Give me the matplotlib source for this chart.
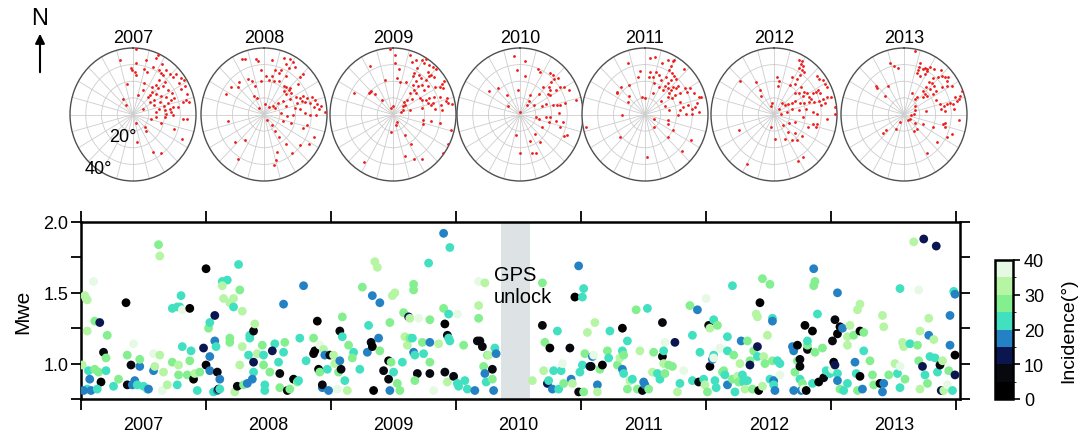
import numpy as np
import matplotlib
matplotlib.use('Agg')
import matplotlib.pyplot as plt
from matplotlib.colors import ListedColormap, BoundaryNorm
from matplotlib.cm import ScalarMappable

plt.rcParams['font.family'] = ['Liberation Sans', 'DejaVu Sans']

years = [2007, 2008, 2009, 2010, 2011, 2012, 2013]

# ray directions per year: (east, north) components of incidence (deg)
rays_2007 = [(2.1, 39.4), (-8.4, 33), (1.7, 31.2), (8, 32.6), (14.3, 34.2), (15.8, 35.6), (18.3, 30.2),
             (-1.5, 28.2), (-0.6, 26.6), (1.1, 25.6), (2.1, 24), (6.7, 27.6), (9.1, 25.6), (12.6, 28.6),
             (16.4, 26.6), (17.5, 25), (18.9, 23.6), (21, 27), (23.2, 24.6), (25.3, 22.6), (27.4, 24.2),
             (30.5, 22), (32.6, 20.6), (29.5, 19), (33.3, 17), (30.5, 15.6), (34.1, 12.2), (33.7, 8.6),
             (31.6, 7.6), (35.8, 7.6), (34.5, -2.8), (31.6, -2.6), (26.3, -9), (30.9, -14.6), (17.9, -23.4),
             (12.6, -22.4), (8.4, -9.8), (7.8, -7.8), (2.7, -16.6), (2.1, -5.4), (11.6, -2.6), (14.3, -1.8),
             (17.9, -5.4), (21, 0.2), (20.2, 2.6), (23.2, 3.6), (25.3, 4.6), (16.8, 3.6), (19.4, 5),
             (22.3, 7), (24.2, 8.6), (26.3, 10.2), (21, 10.6), (17.7, 11), (14.7, 12.6), (10.9, 11.6),
             (9.5, 10.6), (12.2, 13.6), (15.8, 16.2), (14.3, 17.6), (18.9, 17), (22.1, 14.6), (24.8, 13),
             (20, 19.6), (16.8, 20.6), (12, 16.6), (6.3, 14.6), (6.9, 19), (3.2, 11.6), (-3.8, 18.2),
             (-6.3, 9.6), (-4.6, 6), (6.3, 3.6), (10.5, 7.4), (13.1, 8.6), (17.3, 7.6), (24.2, 1.6),
             (28.4, 4.6), (25.7, -0.4), (20, -1.4), (14.7, 1.6), (13.1, 5.6)]
rays_2008 = [(-14.1, 33.3), (-12, 33.3), (-5, 33.1), (-3.7, 32), (4.8, 32.7), (13, 33.7), (16.7, 33.1),
             (18.5, 31.6), (14.1, 30.2), (15.7, 28.2), (19.6, 28.6), (10.9, 26.9), (7.2, 26.9), (9.8, 24.9),
             (5, 22.9), (1.1, 22.9), (-2.2, 26.5), (-10.2, 21.4), (-15.9, 19.4), (-16.3, 16.7), (-20.7, 16.3),
             (-23.9, 12.2), (-7.6, 20.4), (-5.4, 17.3), (-2.2, 20.4), (3.3, 20.8), (6.5, 20), (9.8, 20.4),
             (14.1, 22.9), (22.8, 22.4), (25, 24.5), (21.7, 18.4), (13, 17.3), (14.1, 16.3), (15.9, 14.7),
             (16.7, 15.9), (12.4, 13.9), (14.1, 12.2), (17.4, 12.7), (20.2, 10.6), (22.8, 10.2), (24.6, 11.2),
             (27.2, 10.2), (30.4, 10.6), (32.6, 8.6), (33.7, 6.1), (35.9, 5.1), (31.5, 4.5), (29.3, 7.1),
             (26.1, 7.8), (23.9, 8.2), (20.7, 7.1), (16.3, 9.2), (12, 8.2), (8.7, 7.1), (5.9, 5.1), (3.3, 4.5),
             (7.2, 4.1), (14.1, 5.1), (19.6, 4.1), (22.8, 3.1), (26.1, 1), (29.3, 0), (33.3, -0.4), (38.9, 1.4),
             (34.8, 3.1), (27.2, -6.1), (25, -8.2), (31.5, -13.3), (28.3, -18), (22.8, -18.4), (18, -22.9),
             (14.1, -18), (8, -22.4), (7.6, -27.6), (6.5, -30.2), (9.8, -13.3), (6.7, -10.2), (5, -6.1),
             (2.2, -3.1), (-3.3, 4.1), (-4.3, 10.2), (-6.5, 11.2), (0.7, 6.5), (-18.5, -16.3), (-12, -15.3),
             (-22.8, -3.7), (-16.7, -26.9), (18.5, 0), (14.6, -1), (10.9, 1), (12, -4.1), (17.4, -5.1)]
rays_2009 = [(-1.8, 39.4), (1.1, 35.6), (-14.3, 29.4), (-4.8, 21), (1.1, 31), (4, 27.4), (2.6, 22.2),
             (11, 36), (12.1, 31.6), (14.3, 32.6), (15.4, 28), (18.7, 33), (20.9, 33.4), (19.8, 31),
             (23.1, 30), (25.3, 28.6), (27.5, 27.4), (30.8, 18.6), (32.5, 20), (31.9, 16), (29.7, 16.6),
             (26.4, 16.6), (22, 17), (18.7, 18), (19.8, 15), (14.3, 20), (12.7, 23), (13.6, 25), (16.5, 24),
             (17.6, 22), (20.9, 21), (23.1, 23), (22, 25.4), (24.2, 24), (25.9, 22.6), (12.7, 18), (13.6, 15),
             (14.9, 13), (11, 13), (8.8, 8.6), (7.9, 6), (6.6, 5), (6.2, 3), (4.8, 1.8), (10.5, 3), (7, 7.4),
             (18.7, 8.6), (20.9, 9), (23.1, 10), (25.9, 10.4), (29.7, 10.6), (30.3, 6), (33.4, 8), (35.2, 7),
             (37.4, 6.6), (34.1, 10), (30.8, 3), (26.8, 3.4), (24.2, 6), (18.7, 4), (22, 7), (-14.7, 13.4),
             (-14.1, 14), (-15.4, 13), (-11.4, 12.6), (-7, 8.6), (-24.6, 13), (-1.5, 3.8), (0, 5.4),
             (18.9, -3.4), (19.3, -6), (24.2, -4), (29.7, -5), (36.9, -9.4), (34.7, -18), (31.9, -23),
             (13.2, -27), (7.7, -25), (18.2, -26.6), (11.6, -18), (7.9, -12.4), (2.6, -4.4), (1.8, -6.6),
             (-1.1, -10.6), (-18.7, -28.6), (4.4, 19.4), (8.4, 19.4), (15.8, 17), (17.1, 10), (12.1, 9.4),
             (25.3, 7)]
rays_2010 = [(-3.7, 35.2), (2.9, 32.2), (-1.8, 26.6), (2.9, 23), (-1.1, 14.6), (-8.1, 11.6), (-7.7, 5),
             (-19.8, 14), (-13.8, 16), (11.2, 27.2), (12.5, 25.6), (19.1, 25), (20.9, 23.6), (21.3, 21.6),
             (24.2, 22.2), (19.8, 19.6), (14.3, 16.6), (18.2, 16.6), (19.1, 14.6), (19.1, 11.6), (17.6, 12.6),
             (12.1, 12.6), (6.6, 12), (5.9, 8.2), (4.4, 6), (8.8, 5.6), (13.8, 5), (16.5, 6.6), (20.9, 6),
             (23.5, 5.8), (25.3, 5.6), (28.6, 7.2), (31, 15), (27.9, 16.6), (25.3, 16.6), (22.6, 14.6),
             (35.8, 8.6), (24.8, 1), (19.1, -1.4), (16.5, -1.8), (12.1, -3), (9.9, -1.4), (13.8, -7.4),
             (18.2, -4.4), (23.1, -3.8), (27.5, -4.4), (25.3, -7.4), (27.9, -13), (29.7, -12.4), (9.5, -11.8),
             (6.6, -16), (12.7, -16.4), (7.7, -23.4), (9.9, -23.4), (0, -23.4), (-2.6, -12.4), (0.2, 1.6)]
rays_2011 = [(-11, 30.9), (3.3, 33.9), (6.2, 34.5), (-3.3, 25.9), (-4.4, 22.8), (3.3, 25.3), (4.8, 22.8),
             (7, 25.3), (2.6, 22.4), (10.5, 30.9), (14.3, 32.5), (17.6, 31.9), (18.7, 32.9), (16.5, 28.9),
             (15.4, 26.9), (17.1, 24.8), (18.7, 23.2), (19.8, 21.2), (24.6, 27.3), (16.5, 20.8), (14.3, 19.2),
             (12.7, 17.2), (11.4, 14.7), (14.9, 15.8), (16.5, 14.7), (17.6, 16.8), (19.8, 15.8), (20.9, 17.2),
             (22, 13.1), (19.3, 11.7), (15.4, 12.7), (14.3, 10.7), (17.1, 9.7), (22, 7.7), (25.3, 15.8),
             (26.4, 13.7), (28.6, 15.8), (30.8, 12.7), (34.1, 10.7), (35.6, 10.3), (33, 7.1), (31.9, 4.6),
             (29.7, 3.6), (27.5, 5.7), (24.2, 4.6), (22, 2.6), (29.7, 0.6), (25.9, 0.2), (20.9, -0.4),
             (34.1, 1.6), (15.4, 2.6), (12.7, 5.1), (9.9, 8.3), (4.8, 12.7), (0, 9.7), (-1.8, 10.3),
             (-10.3, 11.1), (-11, 7.7), (-14.3, 0), (-17.6, 13.7), (-18, 12.7), (-15.4, 16.4), (-9.9, 17.8),
             (8.8, 16.8), (5.5, 19.2), (9.9, 20.8), (14.3, -3.4), (14.9, -5.5), (5.5, -3), (5.5, -7.5),
             (18, -9.1), (14.3, -13.5), (23.7, -22), (29.2, -15.6), (1.1, -25.3), (-15.8, -13.5),
             (-37.4, -7.5), (8.8, 23.8), (13.2, 22.8)]
rays_2012 = [(-21.5, 20.4), (-11.6, 19.8), (-8.8, 14.7), (-8.4, 11.1), (-1.1, 6.7), (2.2, 22.8), (3.1, 20.4),
             (2.6, 17.2), (-1.8, 5.1), (3.3, 3.6), (4.4, 0.6), (15.8, 32.5), (17.6, 31.9), (16.9, 30.5),
             (18.5, 29.3), (15.8, 27.9), (17.6, 26.9), (19.1, 25.3), (16.3, 23.8), (14.7, 21.2), (11.4, 22.8),
             (10.3, 17.8), (13.6, 18.4), (16.9, 16.4), (13.6, 13.1), (15.8, 12.7), (19.1, 13.7), (20.7, 12.7),
             (18.5, 11.1), (22.4, 10.7), (24.6, 12.7), (26.8, 13.7), (27.9, 14.7), (29, 13.1), (27.3, 23.2),
             (28.6, 21.2), (30.8, 20.8), (32.3, 18.4), (33.4, 16.4), (36, 10.3), (33.4, 10.7), (31.2, 9.1),
             (28.6, 8.3), (25.7, 7.7), (23.5, 9.1), (22, 7.7), (19.1, 6.7), (16.3, 7.1), (13.6, 8.3),
             (11.4, 6.7), (9.2, 6.3), (7, 5.7), (5.3, 7.1), (11.4, 3.6), (15.8, 2.6), (20.2, 3.6), (24.6, 1.6),
             (27.3, 0.2), (30.1, 5.7), (32.3, 6.7), (38.9, 4.6), (38.9, 0.6), (33.4, -3), (27.3, -5.5),
             (24.6, -5.5), (26.8, -7.5), (21.3, -7.5), (18.5, -1.8), (13.6, -4.4), (9.7, -5.1), (5.9, -6.5),
             (8.8, -10.5), (13.2, -11.1), (7, -14.5), (11.4, -15.6), (14.7, -15.6), (18, -13.1), (15.4, -27.7),
             (18.5, -25.7), (-2.2, -7.5), (0.4, -14.5), (-17.1, -29.7), (-22, -9.5), (8.1, 1.6)]
rays_2013 = [(7.3, 38.4), (-8.8, 31), (-6.4, 29.4), (-3.7, 27.8), (-18, 17.4), (-17.4, 16), (-10.3, 17.4),
             (-12.1, 11), (9.9, 30.8), (9.5, 28.4), (9, 26.8), (8.4, 24.8), (9.9, 23.4), (12.1, 27.4),
             (13.4, 28), (14.9, 27.4), (16.5, 28.4), (14.9, 26.4), (19.3, 27.4), (23.7, 27), (13.4, 24.4),
             (18.2, 22), (21.5, 22.4), (24.4, 23.4), (25.9, 22.4), (27, 20.4), (28.1, 22.8), (16, 19.4),
             (17.8, 18.8), (19.3, 17.4), (13.8, 16.4), (16.5, 15.4), (12.1, 14.4), (13.4, 12.4), (14.9, 11.4),
             (12.1, 10.4), (8.4, 10.8), (6.8, 9.4), (5.1, 12.8), (18.2, 12.4), (20.4, 14.4), (24.4, 16.4),
             (27, 17.4), (30.3, 17.4), (20.4, 8.8), (22.6, 6.4), (25.3, 5.4), (27, 6.4), (29.2, 6.8),
             (32.5, 10.4), (33.6, 8.4), (35.8, 11.4), (36.9, 14), (34.7, 9.4), (31.4, 6.4), (31.9, 3.4),
             (25.9, 2.4), (23.7, 3.4), (13.8, 2.4), (7.3, 2.8), (6.2, 0.4), (4.6, -0.6), (4, -2.6), (2.4, -3.6),
             (7.3, -5.2), (8.4, -8.6), (6.2, -10), (12.1, -5.6), (18.7, -7.6), (24.8, -5.6), (25.9, -5.2),
             (25.9, -7.6), (30.3, -11.6), (34.7, -3.2), (27, -13.6), (20.9, -16.6), (14.5, -23.2),
             (-2.6, -4.6), (-4.8, -8.6), (-11.4, -9.2), (-13.6, -11.2), (6.8, 5.4)]
rays_by_year = [rays_2007, rays_2008, rays_2009, rays_2010, rays_2011, rays_2012, rays_2013]

# events: (decimal year, Mwe, incidence deg)
events_2007 = [(2007.01, 0.99, 32), (2007.03, 1.48, 32), (2007.04, 1.46, 32), (2007.05, 1.45, 32),
               (2007.05, 1.23, 32), (2007.10, 1.58, 37), (2007.11, 1.30, 27), (2007.15, 1.29, 12),
               (2007.18, 1.08, 8), (2007.16, 0.87, 3), (2007.06, 0.95, 22), (2007.07, 0.89, 17),
               (2007.05, 0.82, 22), (2007.08, 0.81, 17), (2007.02, 0.81, 17), (2007.13, 0.82, 22),
               (2007.11, 0.96, 27), (2007.14, 0.94, 27), (2007.20, 0.95, 22), (2007.21, 1.20, 27),
               (2007.20, 1.04, 27), (2007.26, 0.84, 22), (2007.30, 0.89, 27), (2007.36, 1.43, 3),
               (2007.37, 1.06, 27), (2007.40, 0.99, 8), (2007.37, 0.85, 8), (2007.41, 0.85, 17),
               (2007.43, 0.88, 17), (2007.45, 0.85, 22), (2007.47, 0.98, 17), (2007.42, 1.14, 37),
               (2007.47, 1.03, 27), (2007.50, 0.84, 22), (2007.53, 0.82, 22), (2007.54, 0.82, 17),
               (2007.58, 0.95, 17), (2007.59, 0.98, 32), (2007.62, 1.84, 27), (2007.63, 1.76, 32),
               (2007.58, 1.07, 37), (2007.63, 1.06, 32), (2007.66, 0.94, 32), (2007.65, 0.81, 37),
               (2007.69, 0.85, 32), (2007.73, 1.39, 22), (2007.77, 1.40, 22), (2007.79, 1.40, 22),
               (2007.73, 1.01, 27), (2007.78, 0.99, 32), (2007.80, 1.48, 22), (2007.81, 1.38, 37),
               (2007.77, 0.85, 22), (2007.78, 0.92, 27), (2007.81, 1.12, 22), (2007.85, 0.92, 27),
               (2007.87, 1.02, 27), (2007.87, 1.39, 3), (2007.88, 1.09, 22), (2007.90, 0.89, 3),
               (2007.91, 0.93, 32), (2007.93, 0.81, 22), (2007.95, 0.94, 27), (2007.98, 1.11, 12)]
events_2008 = [(2008.00, 1.67, 3), (2008.00, 0.99, 3), (2008.03, 0.95, 17), (2008.03, 1.05, 17),
               (2008.02, 1.25, 27), (2008.03, 1.29, 22), (2008.07, 1.34, 12), (2008.07, 1.16, 17),
               (2008.08, 1.12, 22), (2008.09, 0.94, 8), (2008.11, 0.89, 17), (2008.06, 0.80, 22),
               (2008.09, 0.81, 17), (2008.10, 0.82, 8), (2008.11, 0.82, 22), (2008.13, 1.58, 22),
               (2008.17, 1.59, 22), (2008.13, 1.55, 32), (2008.14, 1.46, 32), (2008.19, 1.43, 32),
               (2008.22, 1.46, 32), (2008.19, 1.18, 27), (2008.19, 1.15, 27), (2008.22, 1.40, 22),
               (2008.23, 0.80, 32), (2008.25, 0.84, 8), (2008.26, 1.70, 22), (2008.27, 1.52, 27),
               (2008.29, 1.37, 32), (2008.29, 1.12, 32), (2008.30, 0.85, 27), (2008.27, 0.99, 32),
               (2008.33, 0.86, 17), (2008.34, 1.06, 22), (2008.35, 1.18, 22), (2008.35, 1.20, 22),
               (2008.38, 1.01, 12), (2008.38, 0.94, 22), (2008.37, 0.89, 17), (2008.38, 1.23, 8),
               (2008.39, 1.28, 32), (2008.41, 1.07, 32), (2008.45, 1.13, 27), (2008.46, 1.06, 22),
               (2008.46, 0.99, 27), (2008.47, 0.85, 22), (2008.47, 0.81, 22), (2008.51, 0.94, 27),
               (2008.55, 1.14, 22), (2008.53, 1.09, 12), (2008.58, 1.01, 22), (2008.59, 0.93, 8),
               (2008.59, 0.83, 27), (2008.62, 1.42, 17), (2008.63, 1.15, 27), (2008.62, 1.08, 22),
               (2008.65, 0.81, 8), (2008.67, 0.82, 27), (2008.70, 0.89, 3), (2008.73, 0.87, 27),
               (2008.74, 0.88, 22), (2008.75, 1.18, 22), (2008.78, 1.55, 17), (2008.80, 1.02, 22),
               (2008.86, 1.18, 27), (2008.86, 1.07, 8), (2008.87, 1.09, 3), (2008.89, 1.30, 3),
               (2008.90, 0.96, 3), (2008.91, 0.94, 27), (2008.91, 1.13, 37), (2008.93, 0.83, 17),
               (2008.93, 0.85, 8), (2008.94, 1.10, 32), (2008.95, 1.06, 17), (2008.97, 0.96, 22),
               (2008.98, 0.81, 17), (2008.99, 1.06, 8)]
events_2009 = [(2009.02, 1.06, 32), (2009.03, 1.00, 32), (2009.05, 0.82, 37), (2009.06, 0.94, 27),
               (2009.07, 1.02, 17), (2009.07, 1.23, 8), (2009.08, 0.96, 8), (2009.09, 1.19, 22),
               (2009.09, 1.33, 27), (2009.11, 0.88, 22), (2009.13, 0.81, 32), (2009.14, 1.13, 27),
               (2009.18, 1.08, 22), (2009.17, 1.04, 27), (2009.23, 0.96, 22), (2009.25, 1.54, 27),
               (2009.29, 1.08, 17), (2009.30, 1.27, 22), (2009.32, 1.15, 8), (2009.33, 1.12, 3),
               (2009.34, 0.81, 3), (2009.35, 1.72, 32), (2009.37, 1.68, 32), (2009.33, 1.48, 17),
               (2009.39, 1.43, 17), (2009.38, 1.18, 17), (2009.39, 1.09, 27), (2009.42, 0.95, 8),
               (2009.46, 0.89, 8), (2009.46, 1.02, 3), (2009.47, 0.81, 17), (2009.48, 1.01, 27),
               (2009.49, 1.48, 32), (2009.51, 1.50, 32), (2009.47, 1.29, 27), (2009.50, 0.94, 22),
               (2009.53, 0.86, 27), (2009.55, 0.81, 27), (2009.57, 1.01, 22), (2009.58, 1.36, 27),
               (2009.62, 1.33, 12), (2009.63, 1.32, 32), (2009.59, 1.19, 32), (2009.61, 1.13, 32),
               (2009.63, 1.18, 27), (2009.65, 1.18, 22), (2009.66, 1.56, 27), (2009.66, 1.52, 27),
               (2009.66, 1.08, 17), (2009.67, 1.06, 22), (2009.69, 0.93, 8), (2009.67, 0.88, 27),
               (2009.70, 1.32, 37), (2009.73, 1.15, 27), (2009.74, 1.07, 22), (2009.78, 1.71, 22),
               (2009.79, 1.15, 17), (2009.79, 1.31, 27), (2009.79, 1.01, 27), (2009.79, 0.93, 8),
               (2009.82, 0.81, 37), (2009.86, 1.14, 32), (2009.90, 1.39, 27), (2009.90, 1.92, 17),
               (2009.91, 1.28, 3), (2009.93, 1.20, 8), (2009.94, 1.18, 22), (2009.95, 1.16, 22),
               (2009.94, 1.35, 22), (2009.91, 0.94, 8), (2009.93, 0.87, 32), (2009.95, 1.82, 22),
               (2009.98, 0.91, 8)]
events_2010 = [(2010.01, 0.86, 22), (2010.01, 1.35, 37), (2010.02, 0.84, 22), (2010.06, 1.13, 27),
               (2010.07, 0.88, 22), (2010.09, 0.82, 22), (2010.15, 0.81, 17), (2010.17, 1.16, 8),
               (2010.19, 1.16, 8), (2010.21, 1.12, 8), (2010.18, 1.41, 32), (2010.18, 1.32, 27),
               (2010.18, 1.58, 37), (2010.23, 1.57, 32), (2010.22, 0.98, 27), (2010.23, 0.93, 17),
               (2010.24, 0.87, 22), (2010.25, 1.06, 27), (2010.26, 1.06, 32), (2010.29, 0.96, 8),
               (2010.29, 0.89, 27), (2010.30, 0.81, 17), (2010.31, 1.11, 22), (2010.32, 1.07, 17),
               (2010.61, 0.88, 32), (2010.69, 1.57, 27), (2010.69, 1.27, 8), (2010.70, 0.95, 32),
               (2010.71, 1.15, 27), (2010.73, 0.86, 12), (2010.74, 0.88, 22), (2010.75, 1.11, 3),
               (2010.77, 0.82, 17), (2010.78, 0.95, 22), (2010.81, 1.23, 22), (2010.82, 0.82, 22),
               (2010.84, 0.95, 22), (2010.85, 1.00, 37), (2010.86, 0.86, 27), (2010.91, 1.11, 8),
               (2010.92, 0.89, 17), (2010.93, 0.86, 32), (2010.95, 1.47, 3), (2010.98, 1.69, 17),
               (2010.98, 0.80, 8), (2010.99, 0.94, 22)]
events_2011 = [(2011.01, 1.47, 22), (2011.02, 1.53, 22), (2011.01, 0.99, 22), (2011.02, 0.80, 27),
               (2011.03, 1.07, 27), (2011.05, 1.22, 32), (2011.07, 0.98, 12), (2011.08, 0.98, 8),
               (2011.09, 1.05, 17), (2011.10, 1.06, 37), (2011.11, 1.29, 32), (2011.13, 0.85, 17),
               (2011.13, 0.80, 32), (2011.15, 0.96, 27), (2011.17, 0.99, 3), (2011.21, 1.09, 27),
               (2011.22, 1.04, 22), (2011.23, 1.23, 22), (2011.29, 0.99, 27), (2011.31, 1.04, 32),
               (2011.33, 1.25, 3), (2011.33, 1.09, 22), (2011.33, 0.96, 17), (2011.34, 0.93, 22),
               (2011.34, 1.06, 27), (2011.37, 1.16, 22), (2011.37, 0.82, 27), (2011.39, 0.88, 32),
               (2011.41, 0.89, 22), (2011.44, 1.38, 27), (2011.45, 0.82, 27), (2011.47, 1.09, 32),
               (2011.49, 0.81, 8), (2011.50, 0.87, 17), (2011.51, 0.85, 17), (2011.53, 1.39, 22),
               (2011.54, 0.82, 27), (2011.57, 0.94, 32), (2011.58, 1.08, 27), (2011.61, 0.93, 22),
               (2011.63, 0.89, 22), (2011.65, 1.05, 3), (2011.65, 1.29, 8), (2011.66, 1.00, 32),
               (2011.67, 1.15, 37), (2011.66, 1.09, 22), (2011.67, 0.93, 27), (2011.70, 0.99, 27),
               (2011.73, 0.98, 27), (2011.75, 1.15, 12), (2011.77, 0.80, 32), (2011.79, 0.86, 22),
               (2011.82, 0.95, 37), (2011.87, 1.41, 27), (2011.89, 0.88, 22), (2011.89, 1.20, 22),
               (2011.93, 1.38, 17), (2011.94, 0.87, 8), (2011.95, 1.08, 22), (2011.98, 0.89, 22),
               (2011.99, 0.85, 32)]
events_2012 = [(2012.00, 1.46, 37), (2012.02, 1.27, 8), (2012.03, 1.25, 32), (2012.03, 0.98, 3),
               (2012.05, 1.03, 17), (2012.06, 1.06, 22), (2012.01, 0.80, 27), (2012.06, 1.31, 22),
               (2012.06, 1.04, 37), (2012.07, 0.88, 22), (2012.08, 0.83, 22), (2012.09, 1.27, 27),
               (2012.11, 1.11, 37), (2012.13, 0.94, 27), (2012.14, 0.95, 27), (2012.15, 0.92, 22),
               (2012.17, 1.19, 22), (2012.17, 1.09, 22), (2012.17, 0.85, 17), (2012.21, 0.89, 27),
               (2012.21, 1.55, 22), (2012.22, 1.06, 27), (2012.23, 0.80, 22), (2012.25, 0.91, 32),
               (2012.26, 0.87, 27), (2012.27, 1.00, 32), (2012.28, 1.16, 17), (2012.29, 0.92, 22),
               (2012.30, 0.87, 22), (2012.31, 0.82, 32), (2012.33, 1.16, 27), (2012.33, 0.88, 22),
               (2012.35, 1.02, 27), (2012.35, 0.99, 12), (2012.37, 0.82, 27), (2012.38, 1.09, 27),
               (2012.41, 1.12, 12), (2012.41, 1.05, 22), (2012.42, 0.81, 3), (2012.45, 0.84, 32),
               (2012.45, 1.60, 27), (2012.46, 1.05, 32), (2012.49, 1.20, 32), (2012.47, 1.00, 27),
               (2012.43, 1.43, 3), (2012.40, 1.35, 32), (2012.41, 1.33, 32), (2012.51, 1.56, 27),
               (2012.51, 0.89, 22), (2012.53, 1.32, 22), (2012.53, 1.30, 17), (2012.53, 1.02, 27),
               (2012.54, 0.88, 17), (2012.54, 0.85, 22), (2012.55, 0.81, 17), (2012.57, 1.02, 22),
               (2012.59, 1.00, 22), (2012.59, 0.92, 37), (2012.69, 1.12, 17), (2012.70, 1.09, 17),
               (2012.70, 0.81, 17), (2012.71, 0.94, 27), (2012.73, 1.02, 27), (2012.73, 1.13, 3),
               (2012.75, 1.03, 8), (2012.75, 0.98, 8), (2012.75, 0.89, 22), (2012.76, 0.81, 17),
               (2012.77, 0.86, 27), (2012.78, 0.82, 37), (2012.79, 1.27, 3), (2012.80, 0.81, 3),
               (2012.81, 1.10, 8), (2012.81, 1.13, 27), (2012.81, 1.16, 22), (2012.85, 1.23, 3),
               (2012.85, 0.86, 22), (2012.86, 1.55, 27), (2012.87, 1.58, 27), (2012.89, 1.35, 22),
               (2012.86, 1.67, 17), (2012.87, 1.08, 27), (2012.90, 0.87, 3), (2012.93, 1.11, 27),
               (2012.94, 0.90, 8), (2012.96, 0.95, 22), (2012.99, 0.93, 22)]
events_2013 = [(2013.01, 0.96, 37), (2013.01, 1.16, 8), (2013.02, 1.01, 3), (2013.03, 0.99, 12),
               (2013.03, 1.31, 8), (2013.05, 0.93, 22), (2013.05, 0.88, 17), (2013.05, 1.21, 3),
               (2013.05, 1.50, 17), (2013.07, 1.26, 3), (2013.09, 1.25, 17), (2013.07, 0.82, 27),
               (2013.10, 0.81, 22), (2013.13, 1.19, 32), (2013.13, 1.13, 32), (2013.13, 0.86, 22),
               (2013.15, 1.27, 32), (2013.18, 1.20, 27), (2013.19, 1.01, 17), (2013.20, 0.93, 22),
               (2013.21, 0.81, 27), (2013.21, 1.38, 32), (2013.23, 1.42, 32), (2013.23, 1.23, 3),
               (2013.23, 0.91, 3), (2013.25, 0.82, 17), (2013.26, 1.22, 27), (2013.26, 1.09, 22),
               (2013.31, 1.02, 27), (2013.33, 0.92, 27), (2013.34, 0.85, 27), (2013.39, 0.86, 3),
               (2013.42, 0.86, 17), (2013.41, 0.80, 17), (2013.41, 1.34, 32), (2013.42, 1.26, 32),
               (2013.46, 0.92, 27), (2013.51, 1.00, 32), (2013.53, 0.93, 22), (2013.55, 0.98, 37),
               (2013.55, 1.53, 22), (2013.55, 0.83, 22), (2013.57, 1.15, 32), (2013.58, 1.12, 32),
               (2013.59, 0.89, 27), (2013.63, 1.14, 22), (2013.66, 1.86, 32), (2013.69, 1.13, 27),
               (2013.70, 1.02, 27), (2013.70, 1.52, 37), (2013.71, 1.23, 32), (2013.71, 0.82, 32),
               (2013.73, 0.98, 12), (2013.74, 1.88, 12), (2013.75, 0.92, 22), (2013.77, 0.86, 27),
               (2013.78, 1.20, 17), (2013.78, 1.32, 32), (2013.79, 1.05, 22), (2013.82, 1.17, 32),
               (2013.84, 1.83, 12), (2013.83, 1.04, 22), (2013.85, 0.94, 22), (2013.87, 0.99, 8),
               (2013.88, 0.81, 12), (2013.89, 1.02, 32), (2013.90, 0.81, 32), (2013.93, 0.85, 37),
               (2013.94, 0.95, 27), (2013.95, 1.34, 17), (2013.95, 1.13, 17), (2013.97, 0.81, 22),
               (2013.98, 1.51, 22), (2013.99, 1.49, 17), (2013.99, 1.06, 3), (2013.99, 0.92, 12)]
events = (events_2007 + events_2008 + events_2009 + events_2010 +
          events_2011 + events_2012 + events_2013)

gps_gap = (2010.36, 2010.59)

inc_levels = [0, 5, 10, 15, 20, 25, 30, 35, 40]
inc_colors = ['#000000', '#07090f', '#0b1650', '#2482c4', '#40e0c0',
              '#84ef8e', '#b6f5a4', '#e6f9e4']
cmap = ListedColormap(inc_colors)
norm = BoundaryNorm(inc_levels, cmap.N)

W, H = 1089.0, 435.0
fig = plt.figure(figsize=(W / 100, H / 100), dpi=100)

# ---- polar ray plots
polar_cx = [133, 264, 393, 520, 645, 774, 904]
for i, (yr, rays) in enumerate(zip(years, rays_by_year)):
    cx = polar_cx[i]
    pax = fig.add_axes([(cx - 63) / W, 253 / H, 126 / W, 133 / H], projection='polar')
    pax.set_aspect('auto')
    pax.set_theta_zero_location('N')
    pax.set_theta_direction(-1)
    e = np.array([p[0] for p in rays])
    n = np.array([p[1] for p in rays])
    pax.scatter(np.arctan2(e, n), np.hypot(e, n), s=4, c='#ee1b1b', lw=0, zorder=3)
    pax.set_ylim(0, 40)
    pax.set_yticks([10, 20, 30])
    pax.set_yticklabels([])
    pax.set_xticks(np.radians(np.arange(0, 360, 15)))
    pax.set_xticklabels([])
    pax.tick_params(length=0)
    pax.grid(color='#cdcdcd', lw=0.6)
    pax.spines['polar'].set_color('#505050')
    pax.spines['polar'].set_linewidth(1.0)
    pax.text(0.5, 1.08, str(yr), transform=pax.transAxes, ha='center', va='center', fontsize=13)
    if i == 0:
        pax.text(np.radians(206), 15, '20°', ha='center', va='center', fontsize=13, zorder=5)
        pax.text(np.radians(214), 39.4, '40°', ha='center', va='center', fontsize=13, zorder=5)

# north arrow
fig.text(40 / W, 1 - 19 / H, 'N', ha='center', va='center', fontsize=17)

# ---- Mwe vs time
ax = fig.add_axes([81 / W, 35 / H, 879 / W, 177 / H])
ax.annotate('', xy=(40, H - 32), xycoords='figure pixels', xytext=(40, H - 76),
            textcoords='figure pixels', annotation_clip=False,
            arrowprops=dict(arrowstyle='-|>', color='black', lw=1.5, mutation_scale=14))

t = np.array([ev[0] for ev in events])
mwe = np.array([ev[1] for ev in events])
inc = np.array([ev[2] for ev in events])

ax.axvspan(gps_gap[0], gps_gap[1], color='#dde3e4', lw=0, zorder=1)
ax.scatter(t, mwe, c=inc, cmap=cmap, norm=norm, s=40, lw=0, zorder=3, clip_on=True)
ax.text(2010.30, 1.555, 'GPS\nunlock', ha='left', va='center', fontsize=14.5, zorder=4)

ax.set_xlim(2007, 2014.03)
ax.set_ylim(0.75, 2.0)
ax.set_xticks(range(2007, 2015))
ax.set_xticklabels([])
ax.set_xticks([y + 0.5 for y in years], labels=[str(y) for y in years], minor=True)
ax.tick_params(axis='x', which='major', direction='out', length=8, width=1.3,
               top=True, bottom=True)
ax.tick_params(axis='x', which='minor', length=0, pad=12, labelsize=13)
ax.set_yticks([1.0, 1.5, 2.0], labels=['1.0', '1.5', '2.0'])
ax.set_yticks([0.75, 1.25, 1.75], minor=True)
ax.tick_params(axis='y', which='both', direction='out', length=7, width=1.3,
               left=True, right=True, labelsize=13, pad=2)
for s in ax.spines.values():
    s.set_linewidth(1.8)
ax.set_ylabel('Mwe', fontsize=15)
ax.yaxis.set_label_coords(-0.055, 0.5)

# ---- colorbar
cax = fig.add_axes([995 / W, 35 / H, 18 / W, 139 / H])
cb = fig.colorbar(ScalarMappable(norm=norm, cmap=cmap), cax=cax, ticks=[0, 10, 20, 30, 40])
cb.outline.set_linewidth(1.8)
cax.tick_params(direction='out', length=5, width=1.2, labelsize=13, pad=3)
cb.set_label('Incidence(°)', fontsize=14)
cax.yaxis.set_label_coords(3.6, 0.5)

fig.savefig('out.png', dpi=100)
